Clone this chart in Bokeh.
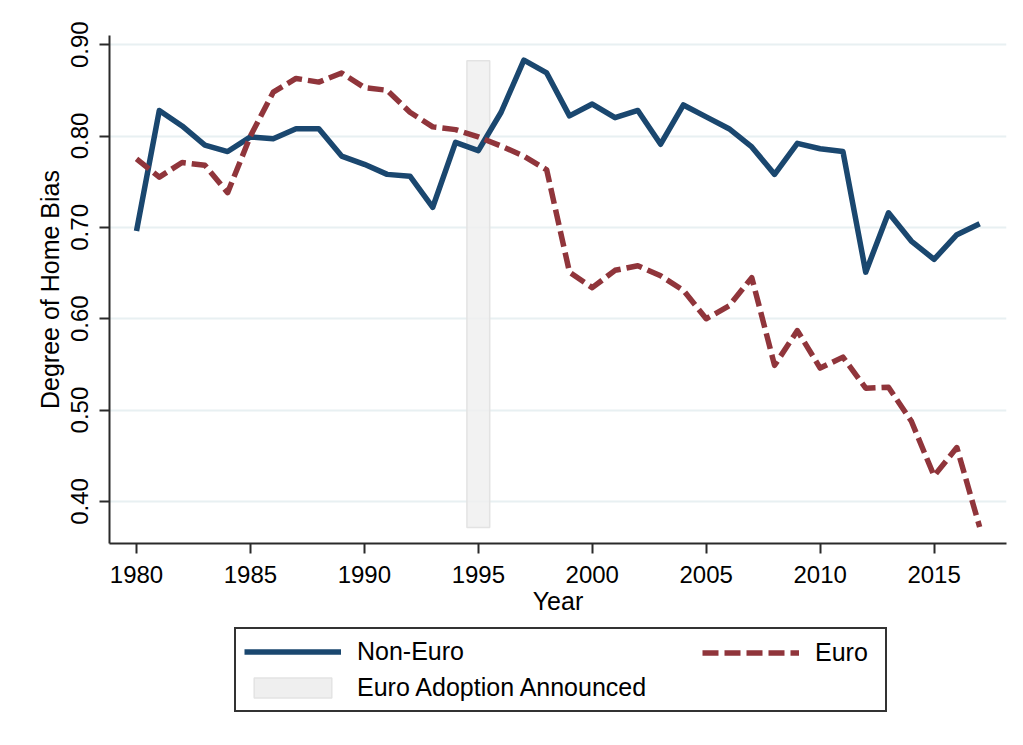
from bokeh.plotting import figure
from bokeh.layouts import column
from bokeh.models import Range1d, FixedTicker, Legend, LegendItem
from bokeh.embed import file_html
from bokeh.resources import INLINE

years = list(range(1980, 2018))
non_euro = [0.696, 0.828, 0.811, 0.790, 0.783, 0.799, 0.797, 0.808, 0.808, 0.778,
            0.769, 0.758, 0.756, 0.722, 0.793, 0.784, 0.826, 0.883, 0.869, 0.822,
            0.835, 0.820, 0.828, 0.791, 0.834, 0.821, 0.808, 0.788, 0.758, 0.792,
            0.786, 0.783, 0.651, 0.716, 0.685, 0.665, 0.692, 0.704]
euro = [0.775, 0.755, 0.771, 0.768, 0.738, 0.800, 0.848, 0.863, 0.859, 0.869,
        0.853, 0.850, 0.826, 0.810, 0.807, 0.799, 0.789, 0.778, 0.763, 0.651,
        0.634, 0.653, 0.658, 0.647, 0.631, 0.600, 0.614, 0.645, 0.549, 0.587,
        0.546, 0.558, 0.524, 0.525, 0.488, 0.428, 0.459, 0.372]
announce_start = [1994.5]
announce_end = [1995.5]
announce_low = [0.3715]
announce_high = [0.8825]
x_ticks = [1980, 1985, 1990, 1995, 2000, 2005, 2010, 2015]
y_ticks = [0.40, 0.50, 0.60, 0.70, 0.80, 0.90]
y_tick_labels = ["0.40", "0.50", "0.60", "0.70", "0.80", "0.90"]
series_names = ["Non-Euro", "Euro", "Euro Adoption Announced"]

FONT = "Liberation Sans"
NAVY = "#1a476f"
MAROON = "#90353b"
SHADE_FILL = "#efefef"
SHADE_LINE = "#e3e3e3"

p = figure(width=1015, height=620, output_backend="svg", toolbar_location=None,
           x_range=Range1d(1978.815, 2018.178), y_range=Range1d(0.354, 0.91),
           min_border_left=109, min_border_right=9, min_border_top=35,
           min_border_bottom=77, background_fill_color="white",
           border_fill_color="white", outline_line_color=None)

rq = p.quad(left=announce_start, right=announce_end, bottom=announce_low, top=announce_high,
            fill_color=SHADE_FILL, fill_alpha=0.8, line_color=SHADE_LINE, line_width=1.5)
r1 = p.line(years, non_euro, line_color=NAVY, line_width=5.5, line_join="round")
r2 = p.line(years, euro, line_color=MAROON, line_width=5.5, line_dash="16 6", line_join="round")

p.xgrid.visible = False
p.ygrid.grid_line_color = "#e8f0f2"
p.ygrid.grid_line_width = 2
p.ygrid.ticker = FixedTicker(ticks=y_ticks)

for ax in (p.xaxis[0], p.yaxis[0]):
    ax.axis_line_color = "#2a2a2a"
    ax.axis_line_width = 2
    ax.major_tick_line_color = "#2a2a2a"
    ax.major_tick_line_width = 2
    ax.major_tick_in = 0
    ax.major_tick_out = 10
    ax.minor_tick_line_color = None
    ax.major_label_text_font = FONT
    ax.major_label_text_font_size = "24px"
    ax.major_label_text_color = "black"
    ax.axis_label_text_font = FONT
    ax.axis_label_text_font_size = "25px"
    ax.axis_label_text_font_style = "normal"
    ax.axis_label_text_color = "black"

p.xaxis.ticker = FixedTicker(ticks=x_ticks)
p.xaxis.axis_label = "Year"
p.xaxis.major_label_standoff = 12
p.xaxis.axis_label_standoff = 1

p.yaxis.ticker = FixedTicker(ticks=y_ticks)
p.yaxis.major_label_overrides = {t: s for t, s in zip(y_ticks, y_tick_labels)}
p.yaxis.major_label_orientation = "vertical"
p.yaxis.axis_label = "Degree of Home Bias"
p.yaxis.major_label_standoff = 11
p.yaxis.axis_label_standoff = 5

# legend strip below the chart (its frame is aligned with the chart's frame)
LH = 125
nan = float("nan")
q = figure(width=1015, height=LH, output_backend="svg", toolbar_location=None,
           x_range=Range1d(0, 1), y_range=Range1d(0, 1),
           x_axis_type=None, y_axis_type=None,
           min_border_left=109, min_border_right=9, min_border_top=0, min_border_bottom=0,
           background_fill_color="white", border_fill_color="white", outline_line_color=None)
q.xgrid.visible = False
q.ygrid.visible = False
# legend proxies: one NaN point each, so nothing is drawn in the strip itself
k1 = q.line([nan], [nan], line_color=NAVY, line_width=5.5)
k2 = q.line([nan], [nan], line_color=MAROON, line_width=5.5, line_dash="16 6")
kq = q.quad(left=[nan], right=[nan], bottom=[nan], top=[nan], fill_color=SHADE_FILL,
            line_color=SHADE_LINE, line_width=1.5)

common = dict(label_text_font=FONT, label_text_font_size="25px", label_text_color="black",
              glyph_width=97, glyph_height=25, label_standoff=16, label_height=29,
              spacing=7, margin=0)

legend_main = Legend(items=[LegendItem(label=series_names[0], renderers=[k1]),
                            LegendItem(label=series_names[2], renderers=[kq])],
                     location=(125, 33), orientation="vertical", padding=8,
                     label_width=520, border_line_color="#333333", border_line_width=2,
                     border_line_alpha=1.0, background_fill_color="white",
                     background_fill_alpha=1.0, **common)
legend_euro = Legend(items=[LegendItem(label=series_names[1], renderers=[k2])],
                     location=(593, 78), orientation="vertical", padding=0,
                     border_line_color=None, background_fill_alpha=0.0, **common)
q.add_layout(legend_main, "center")
q.add_layout(legend_euro, "center")

layout = column(p, q, spacing=0)
open("out.html", "w").write(file_html(layout, INLINE))
